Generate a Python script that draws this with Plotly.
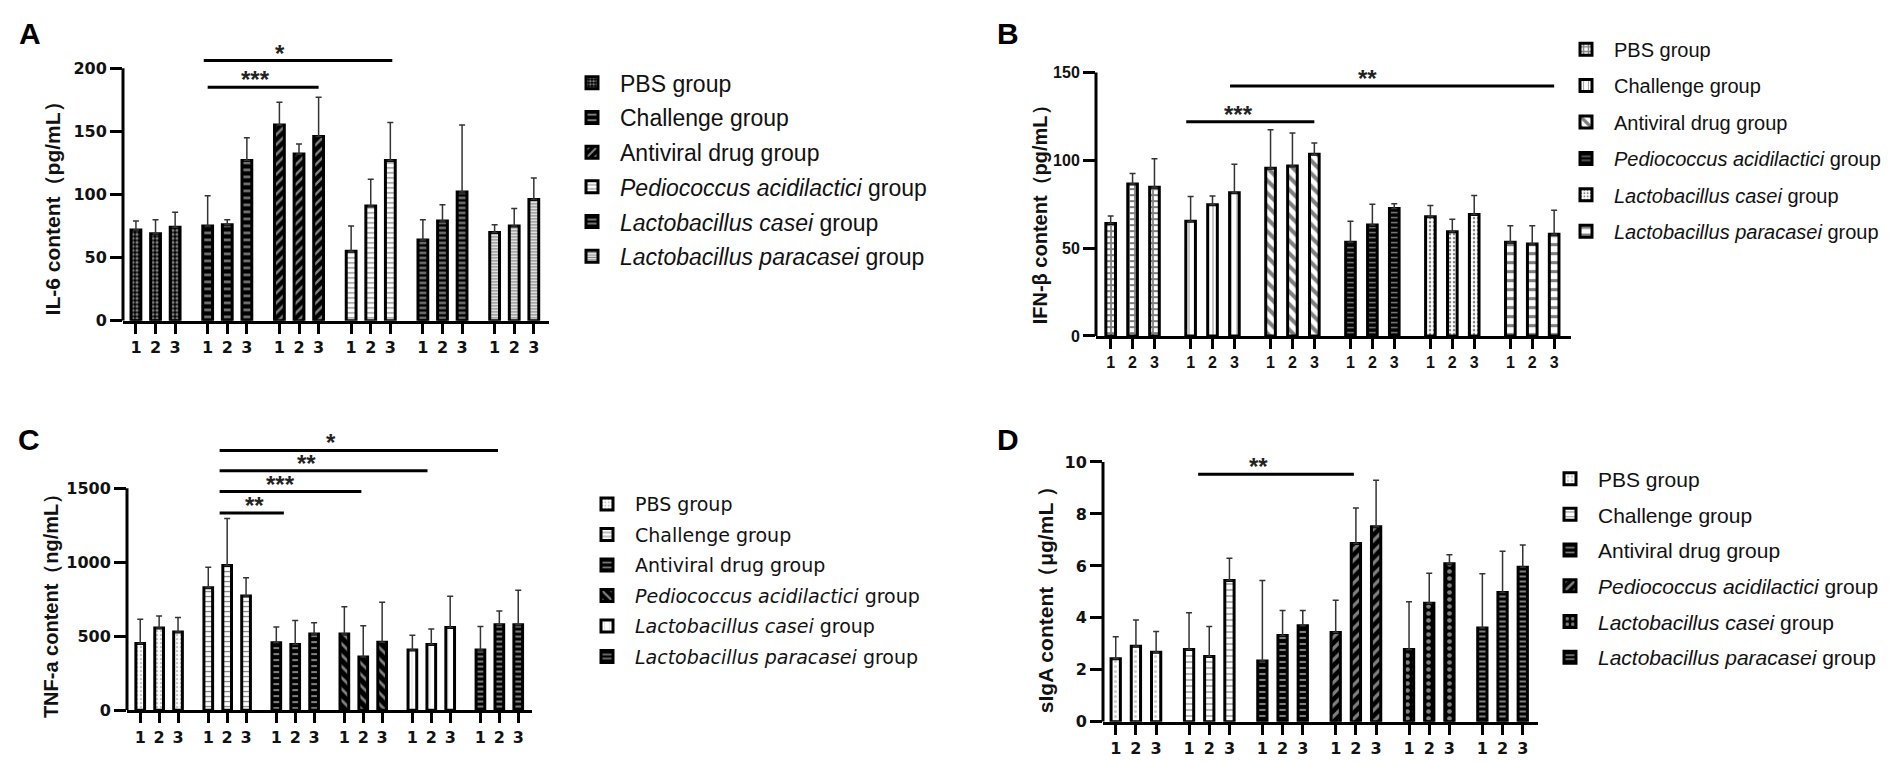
import plotly.graph_objects as go

W, H = 1904, 762

groups = ["PBS group", "Challenge group", "Antiviral drug group",
          "<i>Pediococcus acidilactici</i> group",
          "<i>Lactobacillus casei</i> group",
          "<i>Lactobacillus paracasei</i> group"]
days = ["1", "2", "3"]

# A: IL-6 (pg/mL), mean and upper SD per group x day
il6_mean = [[72, 69, 74], [75, 76, 127], [155, 132, 146], [55, 91, 127], [64, 79, 102], [70, 75, 96]]
il6_sd = [[7, 11, 12], [24, 4, 18], [18, 8, 31], [20, 21, 30], [16, 13, 53], [6, 14, 17]]
# significance: (group, bar) start, (group, bar) end, level, label, star position along line
il6_sig = [(1, -0.2, 3, 2.1, 206, "*", 0.405), (1, 0, 2, 2, 185, "***", 0.43)]

# B: IFN-beta (pg/mL)
ifn_mean = [[64, 86.5, 84.6], [65.3, 74.7, 81.5], [95.5, 96.8, 103.4], [53.4, 63.1, 72.5], [67.8, 59.3, 69.1], [53.4, 52.4, 57.9]]
ifn_sd = [[4.3, 6, 16.3], [14.1, 4.9, 16.3], [21.9, 18.7, 6.5], [11.9, 11.8, 2.8], [6.5, 7.2, 10.9], [9.3, 10.3, 13.6]]
ifn_sig = [(1, -0.2, 2, 2, 122, "***", 0.41), (1, 1.8, 5, 2, 142.3, "**", 0.425)]

# C: TNF-a (ng/mL)
tnf_mean = [[451, 556, 529], [829, 978, 773], [456, 445, 516], [516, 360, 460], [407, 445, 560], [407, 578, 578]]
tnf_sd = [[165, 81, 98], [138, 318, 123], [107, 162, 75], [184, 211, 271], [100, 104, 211], [160, 93, 233]]
tnf_sig = [(1, 0.6, 2, 0.4, 1333, "**", 0.55), (1, 0.6, 3, 0.9, 1478, "***", 0.43),
           (1, 0.6, 4, 0.8, 1618, "**", 0.42), (1, 0.6, 5, 0.93, 1756, "*", 0.40)]

# D: sIgA (ug/mL)
siga_mean = [[2.43, 2.91, 2.68], [2.78, 2.51, 5.44], [2.34, 3.32, 3.70], [3.44, 6.86, 7.51], [2.78, 4.56, 6.08], [3.61, 4.98, 5.95]]
siga_sd = [[0.84, 1.01, 0.80], [1.42, 1.16, 0.85], [3.10, 0.96, 0.58], [1.24, 1.37, 1.79], [1.84, 1.16, 0.35], [2.09, 1.58, 0.85]]
siga_sig = [(1, 0.45, 3, 0.9, 9.53, "**", 0.385)]

# pattern fills (shape, fg, bg, size, solidity) for the 6 groups
pats_A = [(".", "white", "black", 4, 0.5), ("-", "white", "black", 7, 0.35), ("/", "white", "black", 7, 0.35),
          ("-", "black", "white", 5, 0.25), ("-", "white", "black", 5, 0.45), ("-", "black", "white", 3, 0.5)]
pats_B = [("+", "black", "white", 6, 0.5), ("|", "black", "white", 6, 0.15), ("\\", "black", "white", 9, 0.45),
          ("-", "white", "black", 5, 0.3), (".", "black", "white", 4, 0.3), ("-", "black", "white", 9, 0.35)]
pats_C = [(".", "#888", "white", 4, 0.3), ("-", "black", "white", 5, 0.25), ("-", "white", "black", 6, 0.35),
          ("\\", "white", "black", 8, 0.35), ("|", "#999", "white", 6, 0.1), ("-", "white", "black", 5, 0.4)]
pats_D = [(".", "#999", "white", 5, 0.3), ("-", "black", "white", 6, 0.2), ("-", "white", "black", 6, 0.35),
          ("/", "white", "black", 8, 0.4), (".", "white", "black", 7, 0.35), ("-", "white", "black", 5, 0.4)]

# geometry in screen px: ax = y-axis x, y0 = zero line y, sx = px per bar step, sy = px per y unit
panels = [
    dict(mean=il6_mean, sd=il6_sd, sig=il6_sig, pats=pats_A, label="A", lab=(22, 26),
         ytitle="IL-6 content（pg/mL）", tx=44, ty=198, tsize=21, yticks=[0, 50, 100, 150, 200],
         ax=115, y0=317, sx=19.6, sy=1.28, gs=3.66, xmin=-0.66, ytop=222, bw=0.5,
         tickfam="DejaVu Sans", legx=556, legy=54, legfont=dict(family="Liberation Sans, Arial", size=23), gap=1.8),
    dict(mean=ifn_mean, sd=ifn_sd, sig=ifn_sig, pats=pats_B, label="B", lab=(1000, 26),
         ytitle="IFN-β content（pg/mL）", tx=1032, ty=205, tsize=20, yticks=[0, 50, 100, 150],
         ax=1088, y0=332.3, sx=21.9, sy=1.78, gs=3.65, xmin=-0.67, ytop=157, bw=0.44,
         tickfam="Liberation Sans", legx=1550, legy=22,
         legfont=dict(family="Liberation Sans Narrow, Liberation Sans, Arial", size=20), gap=7.4),
    dict(mean=tnf_mean, sd=tnf_sd, sig=tnf_sig, pats=pats_C, label="C", lab=(21, 437),
         ytitle="TNF-a content（ng/mL）", tx=43, ty=601, tsize=20, yticks=[0, 500, 1000, 1500],
         ax=119, y0=711.7, sx=18.9, sy=0.15, gs=3.6, xmin=-0.7, ytop=1900, bw=0.46,
         tickfam="DejaVu Sans", legx=571, legy=483.5, legfont=dict(family="DejaVu Sans", size=19), gap=2.8),
    dict(mean=siga_mean, sd=siga_sd, sig=siga_sig, pats=pats_D, label="D", lab=(1000, 437),
         ytitle="sIgA content（μg/mL ）", tx=1037, ty=595, tsize=21, yticks=[0, 2, 4, 6, 8, 10],
         ax=1095, y0=723.3, sx=20.2, sy=26.33, gs=3.63, xmin=-0.63, ytop=10.5, bw=0.46,
         tickfam="DejaVu Sans", legx=1534, legy=456.5, legfont=dict(family="Liberation Sans, Arial", size=21), gap=5.4),
]

fig = go.Figure()
shapes = []
annotations = []
layout = {}

for k, p in enumerate(panels):
    sfx = "" if k == 0 else str(k + 1)
    xa, ya = "x" + sfx, "y" + sfx
    leg = "legend" + sfx
    gs = p["gs"]
    xmax = 5 * gs + 2 + 0.75
    all_pos = []
    for g in range(6):
        pos = [g * gs + i for i in range(3)]
        all_pos += pos
        shp, fg, bg, size, sol = p["pats"][g]
        fig.add_trace(go.Bar(
            x=pos, y=p["mean"][g], width=p["bw"], name=groups[g],
            xaxis=xa, yaxis=ya, legend=leg, legendgroup=p["label"] + str(g),
            marker=dict(color=bg, line=dict(color="black", width=3),
                        pattern=dict(shape=shp, fgcolor=fg, bgcolor=bg, size=size, solidity=sol)),
            error_y=dict(type="data", array=p["sd"][g], arrayminus=[0, 0, 0], symmetric=False,
                         color="#333", thickness=1.5, width=3),
        ))

    x0 = p["ax"] / W
    x1 = (p["ax"] + (xmax - p["xmin"]) * p["sx"]) / W
    yb = 1 - p["y0"] / H
    yt = 1 - (p["y0"] - p["ytop"] * p["sy"]) / H
    tickfont = dict(family=p["tickfam"], size=16, color="#111", weight="bold")
    layout["xaxis" + sfx] = dict(
        domain=[x0, x1], range=[p["xmin"], xmax], anchor=ya,
        tickvals=all_pos, ticktext=days * 6, ticks="outside", ticklen=10, tickwidth=3,
        tickcolor="black", showline=True, linewidth=3, linecolor="black",
        showgrid=False, zeroline=False, tickfont=tickfont, fixedrange=True)
    layout["yaxis" + sfx] = dict(
        domain=[yb, yt], range=[0, p["ytop"]], anchor=xa,
        tickvals=p["yticks"], ticks="outside", ticklen=12, tickwidth=3, tickcolor="black",
        showline=False, showgrid=False, zeroline=False, tickfont=tickfont, fixedrange=True)
    layout[leg] = dict(
        x=p["legx"] / W, y=1 - p["legy"] / H, xanchor="left", yanchor="top",
        font=dict(color="#111", **p["legfont"]), tracegroupgap=p["gap"], itemwidth=46,
        bgcolor="rgba(0,0,0,0)", traceorder="grouped")

    # y axis line only up to the top tick
    shapes.append(dict(type="line", xref="paper", yref=ya, x0=x0, x1=x0, y0=0, y1=p["yticks"][-1],
                       line=dict(color="black", width=3)))

    # significance brackets
    for g1, b1, g2, b2, lvl, txt, frac in p["sig"]:
        xs, xe = g1 * gs + b1, g2 * gs + b2
        shapes.append(dict(type="line", xref=xa, yref=ya, x0=xs, x1=xe, y0=lvl, y1=lvl,
                           line=dict(color="black", width=3)))
        annotations.append(dict(x=xs + frac * (xe - xs), y=lvl, xref=xa, yref=ya, text=txt,
                                showarrow=False, xanchor="center", yanchor="bottom", yshift=-8,
                                font=dict(family="Liberation Sans, Arial", size=24, color="#222", weight="bold")))

    annotations.append(dict(x=p["tx"] / W, y=1 - p["ty"] / H, xref="paper", yref="paper",
                            xanchor="center", yanchor="middle",
                            text=p["ytitle"], textangle=-90, showarrow=False,
                            font=dict(family="Liberation Sans, Arial", size=p["tsize"], color="#111", weight="bold")))
    annotations.append(dict(x=p["lab"][0] / W, y=1 - p["lab"][1] / H, xref="paper", yref="paper",
                            xanchor="center", yanchor="middle",
                            text=p["label"], showarrow=False,
                            font=dict(family="Liberation Sans, Arial", size=30, color="black", weight="bold")))

fig.update_layout(
    width=W, height=H, margin=dict(l=0, r=0, t=0, b=0),
    paper_bgcolor="white", plot_bgcolor="white",
    showlegend=True, barmode="overlay",
    shapes=shapes, annotations=annotations, **layout)

fig.write_html("out.html")
